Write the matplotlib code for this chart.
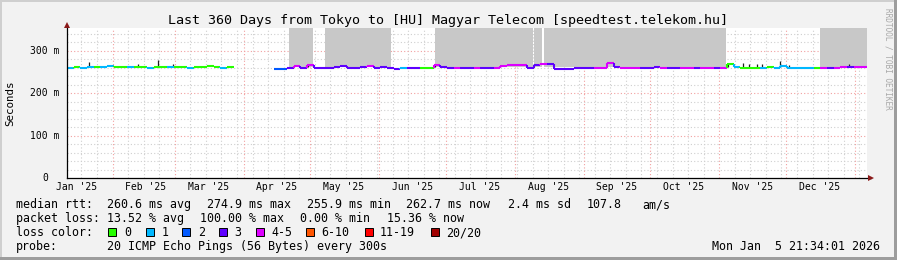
import datetime as dt
import numpy as np
import matplotlib
matplotlib.use("Agg")
import matplotlib.pyplot as plt
from matplotlib.collections import LineCollection
from matplotlib.patches import Rectangle

# ---------------- data ----------------
title = "Last 360 Days from Tokyo to [HU] Magyar Telecom [speedtest.telekom.hu]"
axis_start = dt.datetime(2025, 1, 11, 12, 0)
span_days = 360
ymax = 354

# median rtt (ms), sampled every 3 days from axis start, NaN = no data
days = np.arange(0, 360, 3)
median_ms = [
    260.5, 261.0, 260.0, 261.5, 261.0, 262.0, 264.0, 261.0, 262.0, 261.5,
    262.0, 261.0, 260.5, 261.0, 262.0, 261.0, 261.5, 262.0, 260.0, 261.0,
    262.5, 264.0, 262.0, 260.5, 263.0, np.nan, np.nan, np.nan, np.nan, np.nan,
    np.nan, 257.5, 258.0, 260.0, 265.5, 260.0, 266.0, 260.0, 259.5, 260.0,
    261.0, 264.0, 260.0, 259.5, 262.0, 264.0, 260.0, 261.0, 259.0, 257.5,
    258.5, 259.5, 260.0, 260.5, 260.0, 267.0, 261.0, 259.0, 259.5, 259.0,
    259.5, 259.0, 259.5, 259.0, 260.0, 265.0, 266.0, 266.0, 266.0, 260.0,
    267.0, 268.0, 268.0, 258.0, 257.5, 257.0, 258.5, 259.5, 259.5, 259.5,
    260.0, 272.0, 261.0, 259.5, 259.0, 259.5, 259.0, 260.0, 262.5, 259.5,
    260.0, 259.0, 260.0, 259.5, 260.0, 259.0, 259.5, 260.0, 258.5, 270.0,
    263.0, 260.0, 260.5, 259.5, 260.0, 261.0, 260.0, 264.0, 259.5, 260.0,
    259.5, 260.0, 260.5, 260.0, 260.5, 260.0, 261.0, 262.0, 261.5, 263.0,
]
# lost pings per sample (index into loss classes)
loss_class = [
    1, 0, 1, 1, 0, 1, 1, 0, 0, 1,
    0, 0, 1, 0, 0, 1, 0, 0, 1, 0,
    0, 0, 0, 1, 0, 0, 0, 0, 0, 0,
    0, 2, 2, 3, 4, 3, 4, 3, 3, 3,
    3, 3, 3, 3, 3, 4, 3, 3, 3, 3,
    1, 3, 3, 0, 0, 4, 3, 3, 4, 3,
    3, 4, 3, 3, 4, 4, 4, 4, 4, 3,
    3, 4, 3, 3, 3, 3, 3, 3, 3, 4,
    4, 4, 3, 4, 4, 4, 3, 3, 3, 4,
    3, 3, 4, 4, 3, 4, 4, 3, 4, 0,
    1, 0, 0, 0, 1, 0, 1, 1, 1, 1,
    1, 1, 0, 4, 3, 4, 4, 3, 4, 4,
]
loss_labels = ["0", "1", "2", "3", "4-5", "6-10", "11-19", "20/20"]
loss_colors = ["#26ff00", "#00b8ff", "#0059ff", "#5e00ff", "#dd00ff",
               "#ff5500", "#ff0000", "#a10000"]

# smoke (ping spread) regions: start day, end day, low ms, high ms
smoke_start = [99.9, 116.1, 165.6, 210.3, 214.7, 338.9]
smoke_end = [110.6, 145.7, 209.6, 213.6, 296.4, 360.0]
smoke_low = [261.5, 261.5, 261.5, 261.5, 261.5, 261.5]
smoke_high = [360, 360, 360, 360, 360, 360]

# individual high-ping spikes: day, top ms
spike_days = [9.9, 32.0, 41.0, 47.7, 108.5, 165.6, 297.5, 304.0, 307.0,
              310.5, 312.6, 320.8, 325.0, 352.0]
spike_top = [274, 268, 278, 268, 269, 270, 272, 272, 270, 270, 268, 275, 266, 268]
spike_base = 261

yticks = [0, 100, 200, 300]
ytick_labels = ["0", "100 m", "200 m", "300 m"]
month_starts = [dt.datetime(2025, m, 1) for m in range(1, 13)] + [dt.datetime(2026, 1, 1)]
month_labels = [d.strftime("%b '%y") for d in month_starts[:12]]

stats_rtt = ["median rtt:", "260.6 ms avg", "274.9 ms max", "255.9 ms min",
             "262.7 ms now", "2.4 ms sd", "107.8", "am/s"]
stats_loss = ["packet loss:", "13.52 % avg", "100.00 % max", "0.00 % min", "15.36 % now"]
probe_text = "20 ICMP Echo Pings (56 Bytes) every 300s"
stamp = "Mon Jan  5 21:34:01 2026"

# ---------------- drawing ----------------
W, H = 897, 260
MONO = "DejaVu Sans Mono"
fig = plt.figure(figsize=(W / 100, H / 100), dpi=100)
fig.patch.set_facecolor("#f2f2f2")

def fx(x):
    return x / W

def fy(y):
    return 1 - y / H

# 3D border
fig.patches.append(Rectangle((0, fy(2)), 1, 2 / H, transform=fig.transFigure, color="#cfcfcf", lw=0))
fig.patches.append(Rectangle((0, 0), 2 / W, 1, transform=fig.transFigure, color="#cfcfcf", lw=0))
fig.patches.append(Rectangle((0, 0), 1, 3 / H, transform=fig.transFigure, color="#9d9d9d", lw=0))
fig.patches.append(Rectangle((fx(894), 0), 3 / W, 1, transform=fig.transFigure, color="#9d9d9d", lw=0))

L, R, T, B = 67, 867, 28, 178
ax = fig.add_axes([fx(L), fy(B), (R - L) / W, (B - T) / H])
ax.set_facecolor("white")
ax.set_xlim(0, span_days)
ax.set_ylim(0, ymax)
for s in ax.spines.values():
    s.set_visible(False)
ax.set_xticks([])
ax.set_yticks([])

def dayof(d):
    return (d - axis_start).total_seconds() / 86400.0

dots = (0, (1, 2))
# horizontal grid
for v in range(20, 360, 20):
    if v % 100:
        ax.axhline(v, color="#cfcfcf", lw=0.8, ls=dots, zorder=0)
for v in yticks[1:]:
    ax.axhline(v, color="#f2a0a0", lw=0.8, ls=dots, zorder=0.5)
# vertical grid: weeks (minor) and months (major)
wk = dt.datetime(2025, 1, 11)
while dayof(wk) < span_days:
    d = dayof(wk)
    if d > 0 and wk.day != 1:
        ax.axvline(d, color="#cfcfcf", lw=0.8, ls=dots, zorder=0)
    wk += dt.timedelta(days=7)
for m in month_starts:
    d = dayof(m)
    if 0 < d < span_days:
        ax.axvline(d, color="#f2a0a0", lw=0.8, ls=dots, zorder=0.5)

# smoke
for a, b, lo, hi in zip(smoke_start, smoke_end, smoke_low, smoke_high):
    ax.fill_between([a, b], [lo, lo], [hi, hi], color="#c8c8c8", lw=0, zorder=1)

# spikes
ax.vlines(spike_days, spike_base, spike_top, color="#1e1e1e", lw=0.9, zorder=2)

# median line, coloured by loss
vals = np.array(median_ms, dtype=float)
xs = list(days) + [span_days]
segs, cols = [], []
for i in range(len(vals)):
    if np.isnan(vals[i]):
        continue
    segs.append([(xs[i], vals[i]), (xs[i + 1], vals[i])])
    cols.append(loss_colors[loss_class[i]])
    if i + 1 < len(vals) and not np.isnan(vals[i + 1]):
        segs.append([(xs[i + 1], vals[i]), (xs[i + 1], vals[i + 1])])
        cols.append(loss_colors[loss_class[i + 1]])
ax.add_collection(LineCollection(segs, colors=cols, linewidths=1.5, zorder=3,
                                 capstyle="butt"))

# axis lines with arrows
ax.plot([0, 0], [0, (B - 25) / (B - T)], transform=ax.transAxes, color="black",
        lw=0.9, clip_on=False, zorder=5)
ax.plot([0, (871 - L) / (R - L)], [0, 0], transform=ax.transAxes, color="black",
        lw=0.9, clip_on=False, zorder=5)
ax.plot([0], [(B - 25) / (B - T)], transform=ax.transAxes, marker="^", ms=5,
        color="#8b1a1a", clip_on=False, zorder=6, mew=0)
ax.plot([(870.5 - L) / (R - L)], [0], transform=ax.transAxes, marker=">", ms=5,
        color="#8b1a1a", clip_on=False, zorder=6, mew=0)

# tick labels
ytr = ax.get_yaxis_transform()
for v, lab in zip(yticks, ytick_labels):
    xr = (59.5 - L) / (R - L) if lab != "0" else (48.5 - L) / (R - L)
    ax.text(xr, v, lab, transform=ytr, ha="right", va="center",
            fontsize=7, family=MONO, color="black")
xtr = ax.get_xaxis_transform()
for m, lab in zip(month_starts[:12], month_labels):
    d = dayof(m) + 15
    ax.text(d, -(187.5 - B) / (B - T), lab, transform=xtr, ha="center",
            va="center", fontsize=7, family=MONO, color="black")

# texts
fig.text(fx(447.5), fy(24), title, ha="center", va="baseline", fontsize=9.66,
         family=MONO, color="black")
fig.text(fx(10), fy(103.5), "Seconds", rotation=90, ha="center", va="center",
         fontsize=7.8, family=MONO, color="black")
fig.text(fx(888), fy(59), "RRDTOOL / TOBI OETIKER", rotation=270, ha="center",
         va="center", fontsize=5.6, family=MONO, color="#a8a8a8")

LF = 8.35
rtt_x = [16, 107, 207.3, 307.3, 406, 507.7, 586.7, 642.3]
for x, s in zip(rtt_x, stats_rtt):
    fig.text(fx(x), fy(208), s, ha="left", va="baseline", fontsize=LF, family=MONO)
loss_x = [16, 107, 200, 300, 386.7]
for x, s in zip(loss_x, stats_loss):
    fig.text(fx(x), fy(222), s, ha="left", va="baseline", fontsize=LF, family=MONO)
fig.text(fx(16), fy(236), "loss color:", ha="left", va="baseline", fontsize=LF, family=MONO)
box_x = [108.3, 145.7, 182.3, 219, 256, 306, 364.5, 430.5]
for bx, lab, c in zip(box_x, loss_labels, loss_colors):
    fig.patches.append(Rectangle((fx(bx), fy(236)), 8 / W, 8 / H,
                                 transform=fig.transFigure, facecolor=c,
                                 edgecolor="black", lw=0.7))
    fig.text(fx(bx + 15.5), fy(236), lab, ha="left", va="baseline", fontsize=LF, family=MONO)
fig.text(fx(16), fy(250), "probe:", ha="left", va="baseline", fontsize=LF, family=MONO)
fig.text(fx(107), fy(250), probe_text, ha="left", va="baseline", fontsize=LF, family=MONO)
fig.text(fx(880), fy(250), stamp, ha="right", va="baseline", fontsize=LF, family=MONO)

fig.savefig("out.png", dpi=100, facecolor=fig.get_facecolor())
